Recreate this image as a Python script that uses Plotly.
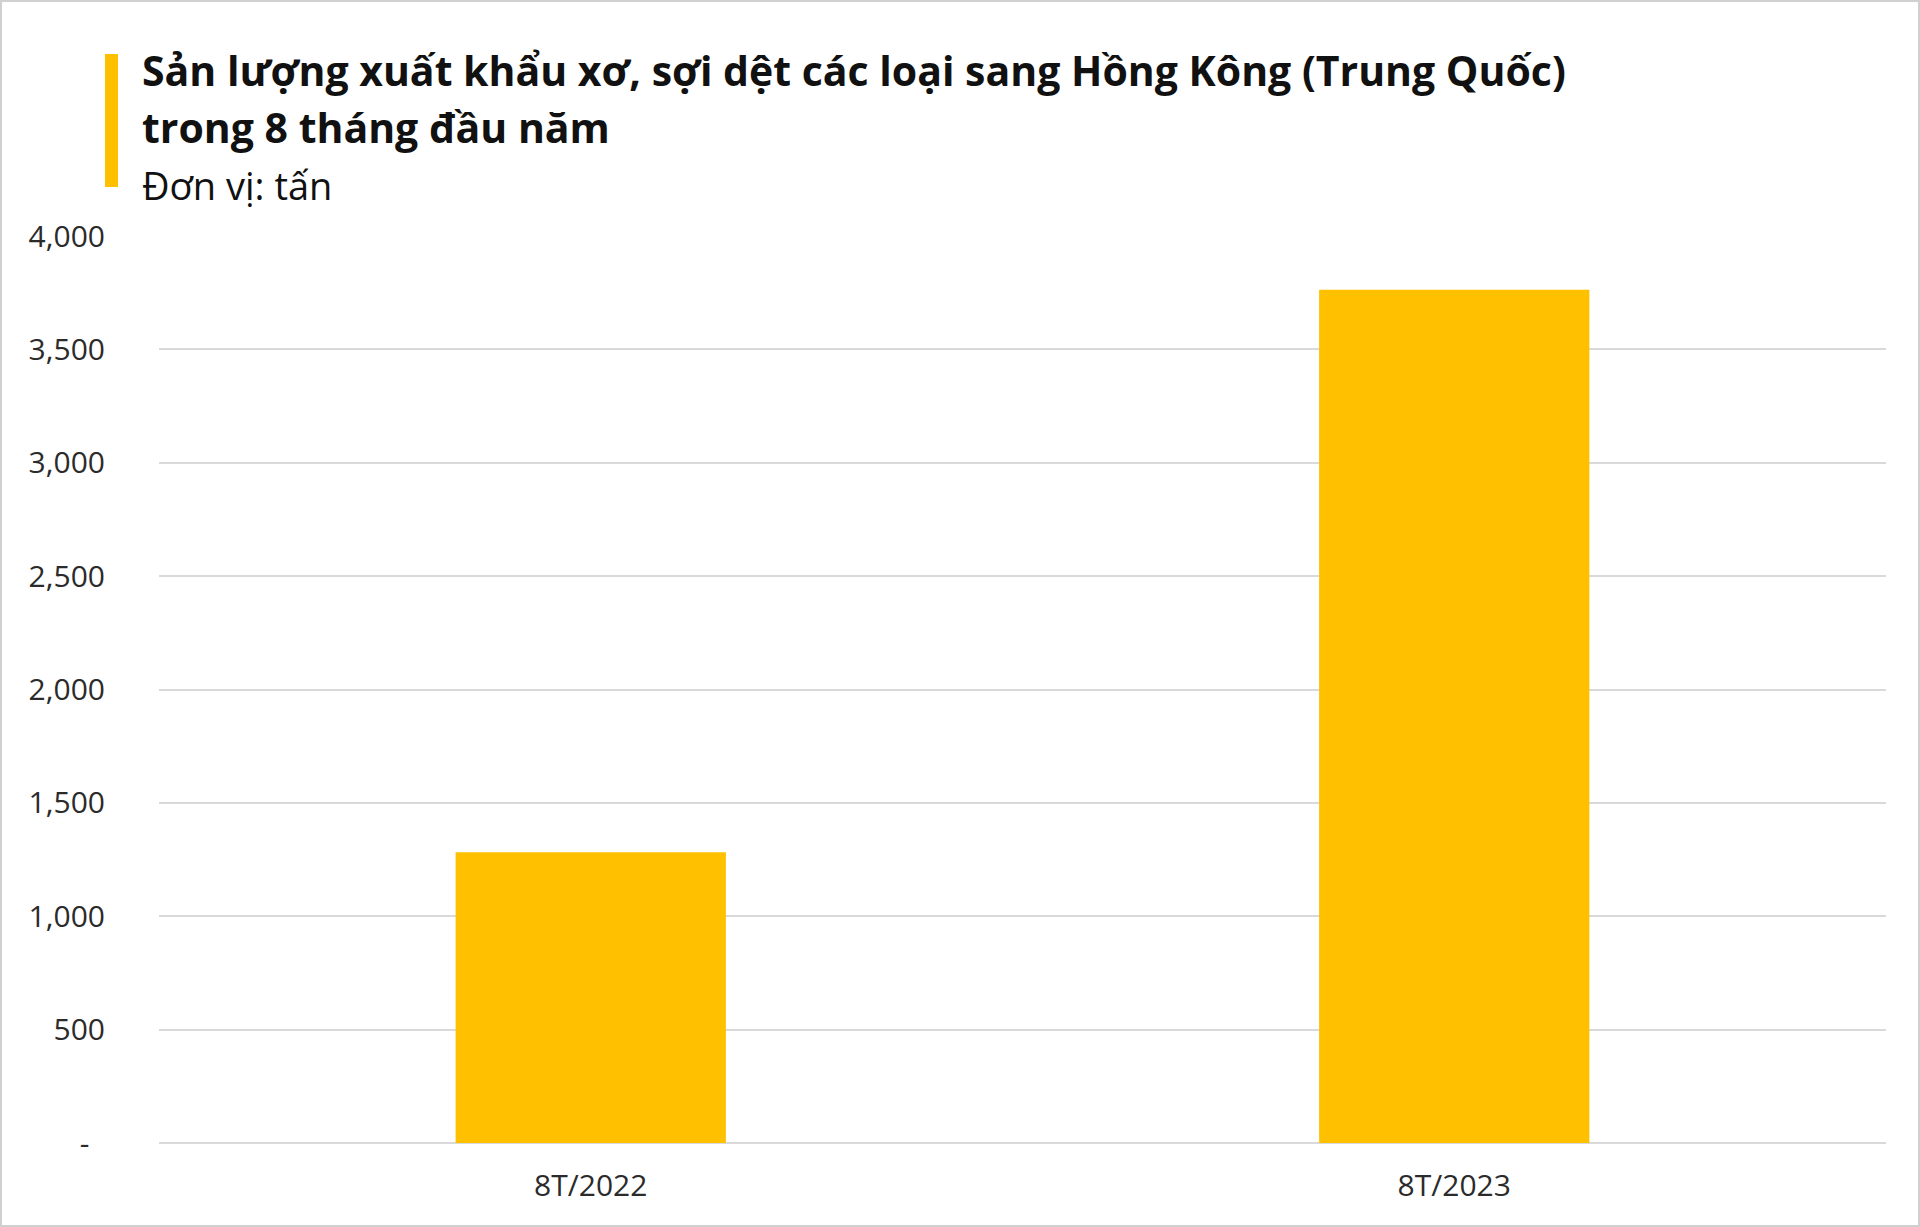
import plotly.graph_objects as go

### chart data
categories = ["8T/2022", "8T/2023"]
values = [1282, 3763]
tick_vals = [0, 500, 1000, 1500, 2000, 2500, 3000, 3500, 4000]
# excel accounting format pads the zero dash
tick_text = ["-\u00a0\u00a0", "500", "1,000", "1,500", "2,000", "2,500", "3,000", "3,500", "4,000"]

title_1 = "Sản lượng xuất khẩu xơ, sợi dệt các loại sang Hồng Kông (Trung Quốc)"
title_2 = "trong 8 tháng đầu năm"
unit = "Đơn vị: tấn"

### page geometry (pixels)
W, H = 1920, 1227
L, R, T, B = 159, 34, 236, 84
pw, ph = W - L - R, H - T - B


def px(x):
    return (x - L) / pw


def py(y):
    return (H - B - y) / ph


YELLOW = "#FFC000"

fig = go.Figure()
fig.add_trace(go.Bar(
    x=categories, y=values,
    marker=dict(color=YELLOW, line=dict(width=0)),
    width=0.313,
))

fig.update_layout(
    width=W, height=H,
    margin=dict(l=L, r=R, t=T, b=B),
    paper_bgcolor="white", plot_bgcolor="white",
    showlegend=False,
    font=dict(family="Open Sans", color="#333333"),
)

fig.update_yaxes(
    range=[0, 4000], tickvals=tick_vals, ticktext=tick_text,
    showgrid=True, gridcolor="#d9d9d9", gridwidth=2,
    zeroline=True, zerolinecolor="#d9d9d9", zerolinewidth=2,
    showline=False, ticks="", ticklabelstandoff=53,
    tickfont=dict(size=30, color="#2b2b2b"),
)
fig.update_xaxes(
    showgrid=False, showline=False, ticks="",
    tickfont=dict(size=30, color="#2b2b2b"),
    ticklabelstandoff=22,
)

### title block
fig.add_annotation(text="<b>" + title_1 + "</b>", x=px(140), y=py(70), xref="paper", yref="paper",
                   xanchor="left", yanchor="middle", showarrow=False,
                   font=dict(size=41, color="#111111", family="Open Sans"))
fig.add_annotation(text="<b>" + title_2 + "</b>", x=px(140), y=py(127), xref="paper", yref="paper",
                   xanchor="left", yanchor="middle", showarrow=False,
                   font=dict(size=41, color="#111111", family="Open Sans"))
fig.add_annotation(text=unit, x=px(140), y=py(185), xref="paper", yref="paper",
                   xanchor="left", yanchor="middle", showarrow=False,
                   font=dict(size=38, color="#111111", family="Open Sans"))

# yellow accent bar left of the title
fig.add_shape(type="rect", xref="paper", yref="paper",
              x0=px(105), x1=px(118), y0=py(187), y1=py(54),
              fillcolor=YELLOW, line=dict(width=0))
# light frame round the picture
fig.add_shape(type="rect", xref="paper", yref="paper",
              x0=px(1), x1=px(W - 1), y0=py(H - 1), y1=py(1),
              fillcolor="rgba(0,0,0,0)", line=dict(color="#d0d0d0", width=2))

# drop the browser's default page margin so the figure sits at 0,0
fig.write_html("out.html", config={"displayModeBar": False},
               post_script="document.body.style.margin='0';")
